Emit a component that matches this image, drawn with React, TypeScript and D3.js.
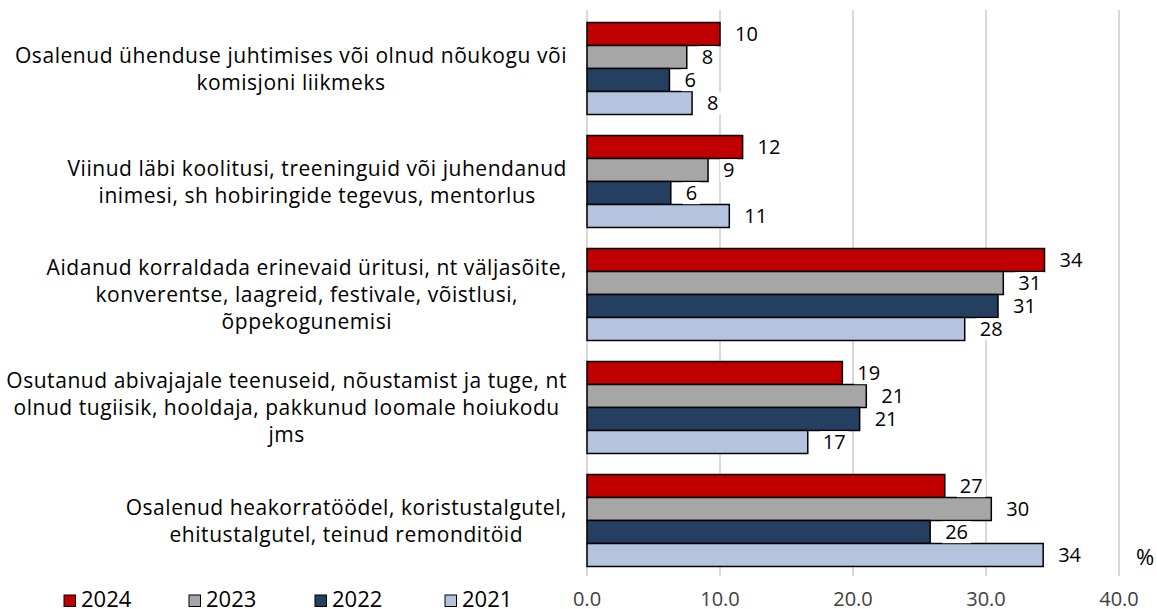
import React, { useEffect, useRef } from "react";
import * as d3 from "d3";

const categories: string[][] = [
  ["Osalenud ühenduse juhtimises või olnud nõukogu või", "komisjoni liikmeks"],
  ["Viinud läbi koolitusi, treeninguid või juhendanud", "inimesi, sh hobiringide tegevus, mentorlus"],
  ["Aidanud korraldada erinevaid üritusi, nt väljasõite,", "konverentse, laagreid, festivale, võistlusi,", "õppekogunemisi"],
  ["Osutanud abivajajale teenuseid, nõustamist ja tuge, nt", "olnud tugiisik, hooldaja, pakkunud loomale hoiukodu", "jms"],
  ["Osalenud heakorratöödel, koristustalgutel,", "ehitustalgutel, teinud remonditöid"],
];
const seriesNames = ["2024", "2023", "2022", "2021"];
const values2024 = [10.0, 11.7, 34.4, 19.2, 26.9];
const values2023 = [7.5, 9.1, 31.3, 21.0, 30.4];
const values2022 = [6.2, 6.3, 30.9, 20.5, 25.8];
const values2021 = [7.9, 10.7, 28.4, 16.6, 34.3];
const tickValues = [0, 10, 20, 30, 40];
const colors = ["#C00000", "#A6A6A6", "#243F60", "#B4C4DE"];

export default function App() {
  const ref = useRef<SVGSVGElement>(null);
  useEffect(() => {
    const svg = d3.select(ref.current);
    svg.selectAll("*").remove();
    const font = "'Open Sans', 'Noto Sans', sans-serif";
    const seriesVals = [values2024, values2023, values2022, values2021];
    const x = d3.scaleLinear().domain([0, 40]).range([587, 1119]);
    const y0 = d3.scaleBand<number>().domain(d3.range(categories.length)).range([12, 577]).paddingInner(0.186).paddingOuter(0.093);
    const y1 = d3.scaleBand<number>().domain(d3.range(seriesNames.length)).range([0, y0.bandwidth()]);

    // gridlines
    svg.append("g").selectAll("line").data(tickValues).join("line")
      .attr("x1", (d) => x(d)).attr("x2", (d) => x(d))
      .attr("y1", 10).attr("y2", 576)
      .attr("stroke", "#D9D9D9").attr("stroke-width", 2);

    // tick labels
    svg.append("g").selectAll("text").data(tickValues).join("text")
      .attr("x", (d) => x(d)).attr("y", 606)
      .attr("text-anchor", "middle")
      .attr("font-family", font).attr("font-size", 20).attr("fill", "#404040")
      .text((d) => d3.format(".1f")(d));

    // bars
    const groups = svg.append("g").selectAll("g").data(categories.map((_, i) => i)).join("g")
      .attr("transform", (i) => `translate(0,${y0(i)})`);
    groups.each(function (ci) {
      const g = d3.select(this);
      seriesVals.forEach((vals, si) => {
        const v = vals[ci];
        g.append("rect")
          .attr("x", x(0)).attr("y", y1(si)!)
          .attr("width", x(v) - x(0)).attr("height", y1.bandwidth())
          .attr("fill", colors[si]).attr("stroke", "#000").attr("stroke-width", 1.5);
      });
      seriesVals.forEach((vals, si) => {
        const v = vals[ci];
        const t = g.append("text")
          .attr("x", x(v) + 15).attr("y", y1(si)! + y1.bandwidth() / 2)
          .attr("dy", "0.36em")
          .attr("font-family", font).attr("font-size", 20).attr("fill", "#000")
          .text(d3.format(".0f")(v));
        const bb = (t.node() as SVGTextElement).getBBox();
        g.insert("rect", () => t.node())
          .attr("x", bb.x - 3).attr("y", bb.y + 3).attr("width", bb.width + 6).attr("height", bb.height - 5)
          .attr("fill", "#fff");
      });
    });

    // category labels
    const lineH = 27;
    categories.forEach((lines, ci) => {
      const cy = y0(ci)! + y0.bandwidth() / 2;
      const texts = lines.map((ln, li) =>
        svg.append("text")
          .attr("y", cy + (li - (lines.length - 1) / 2) * lineH)
          .attr("dy", "0.36em")
          .attr("text-anchor", "middle")
          .attr("font-family", font).attr("font-size", 21).attr("letter-spacing", 0.55).attr("fill", "#000")
          .text(ln)
      );
      const maxW = d3.max(texts, (t) => (t.node() as SVGTextElement).getComputedTextLength()) || 0;
      texts.forEach((t) => t.attr("x", 567 - maxW / 2));
    });

    // legend
    const legX = [64, 189, 315, 445];
    seriesNames.forEach((s, si) => {
      svg.append("rect").attr("x", legX[si]).attr("y", 595).attr("width", 11.5).attr("height", 11.5)
        .attr("fill", colors[si]).attr("stroke", "#000").attr("stroke-width", 1);
      svg.append("text").attr("x", legX[si] + 17).attr("y", 607)
        .attr("font-family", font).attr("font-size", 22).attr("fill", "#000").text(s);
    });

    svg.append("text").attr("x", 1136).attr("y", 565)
      .attr("font-family", font).attr("font-size", 22).attr("fill", "#000").text("%");
  }, []);
  return (
    <svg ref={ref} width={1157} height={609} style={{ position: "absolute", left: 0, top: 0, background: "#fff" }} />
  );
}
